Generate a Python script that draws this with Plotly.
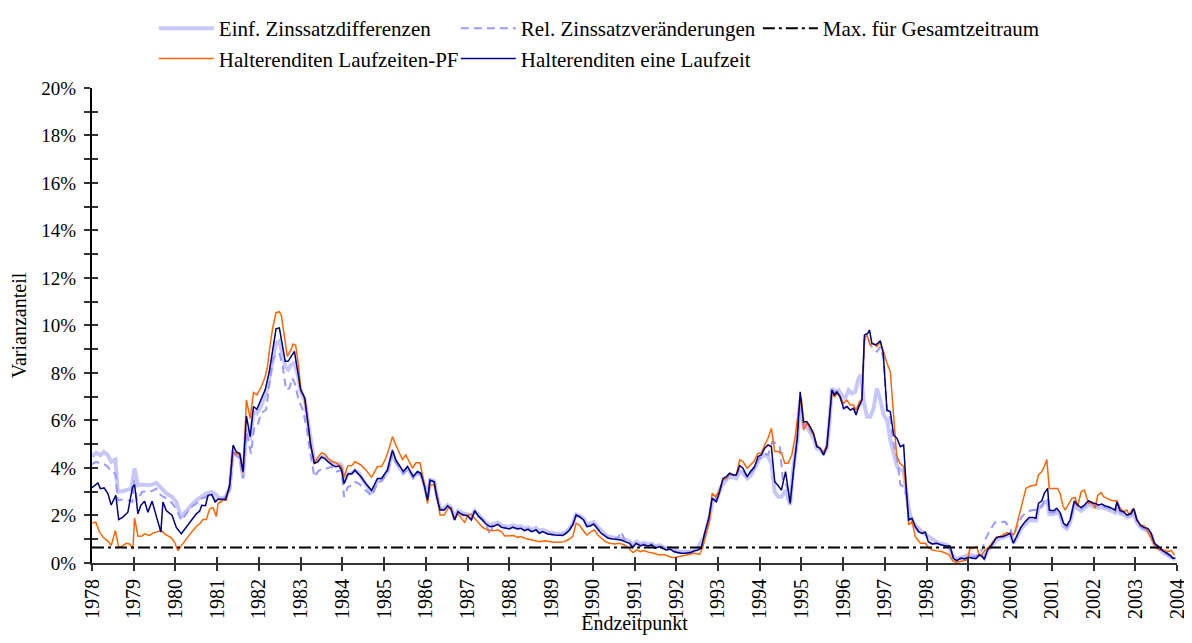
import plotly.graph_objects as go

# ---------------- data (end date as decimal year, variance share in %) ----------------
einf = [
 (1978.00,4.47),(1978.10,4.64),(1978.20,4.54),(1978.28,4.68),(1978.38,4.54),(1978.46,4.26),(1978.56,4.36),
 (1978.62,2.99),(1978.74,3.03),(1978.86,3.09),(1978.94,3.13),(1979.02,3.98),(1979.10,3.27),(1979.20,3.30),
 (1979.34,3.27),(1979.44,3.30),(1979.54,3.37),(1979.65,3.17),(1979.79,2.92),(1979.92,2.78),(1980.02,2.57),
 (1980.14,1.93),(1980.26,2.21),(1980.38,2.43),(1980.50,2.64),(1980.62,2.78),(1980.74,2.92),(1980.86,2.99),
 (1980.95,2.92),(1981.06,2.71),(1981.20,2.78),(1981.30,3.13),(1981.38,4.75),(1981.54,4.54),(1981.62,3.62),
 (1981.70,5.67),(1981.79,5.18),(1981.87,6.38),(1981.95,6.30),(1982.05,6.59),(1982.17,7.15),(1982.25,7.79),
 (1982.33,8.63),(1982.41,9.27),(1982.49,9.34),(1982.57,8.77),(1982.63,8.28),(1982.70,8.14),(1982.77,8.35),
 (1982.85,8.42),(1982.93,7.93),(1983.00,7.22),(1983.10,6.87),(1983.18,5.88),(1983.26,4.89),(1983.33,4.26),
 (1983.41,4.33),(1983.50,4.47),(1983.58,4.44),(1983.66,4.36),(1983.76,4.22),(1983.84,4.12),(1983.92,4.19),
 (1983.98,4.12),(1984.04,3.41),(1984.13,3.77),(1984.23,3.77),(1984.30,3.91),(1984.40,3.77),(1984.50,3.48),
 (1984.60,3.20),(1984.70,2.95),(1984.84,3.45),(1984.94,3.50),(1985.08,3.85),(1985.20,4.65),(1985.28,4.25),
 (1985.36,4.05),(1985.46,3.80),(1985.56,4.00),(1985.64,3.80),(1985.70,3.60),(1985.80,3.80),(1985.88,3.75),
 (1985.96,3.30),(1986.04,2.75),(1986.10,3.50),(1986.20,3.45),(1986.26,2.85),(1986.34,2.30),(1986.44,2.30),
 (1986.52,2.45),(1986.60,2.35),(1986.69,1.90),(1986.77,2.20),(1986.88,2.10),(1987.00,2.05),(1987.09,1.90),
 (1987.17,2.20),(1987.27,2.00),(1987.36,1.85),(1987.44,1.70),(1987.54,1.60),(1987.64,1.65),(1987.73,1.70),
 (1987.81,1.58),(1987.92,1.55),(1988.00,1.52),(1988.08,1.58),(1988.20,1.52),(1988.28,1.55),(1988.36,1.45),
 (1988.45,1.50),(1988.53,1.40),(1988.64,1.48),(1988.72,1.35),(1988.80,1.40),(1988.92,1.30),(1989.08,1.25),
 (1989.20,1.24),(1989.28,1.24),(1989.36,1.32),(1989.44,1.45),(1989.52,1.65),(1989.60,2.05),(1989.68,2.00),
 (1989.78,1.88),(1989.86,1.62),(1989.94,1.65),(1990.02,1.72),(1990.10,1.55),(1990.20,1.35),(1990.29,1.22),
 (1990.37,1.12),(1990.48,1.08),(1990.60,1.06),(1990.68,1.04),(1990.77,0.98),(1990.88,0.92),(1990.96,0.75),
 (1991.04,0.90),(1991.14,0.80),(1991.22,0.85),(1991.32,0.80),(1991.41,0.82),(1991.49,0.70),(1991.60,0.75),
 (1991.68,0.68),(1991.75,0.62),(1991.86,0.64),(1991.94,0.55),(1992.02,0.50),(1992.11,0.47),(1992.23,0.46),
 (1992.35,0.47),(1992.48,0.55),(1992.68,1.11),(1992.80,1.95),(1992.88,2.65),(1992.96,2.65),(1993.08,3.21),
 (1993.16,3.42),(1993.28,3.64),(1993.44,3.56),(1993.52,3.85),(1993.60,3.78),(1993.70,3.56),(1993.80,3.71),
 (1993.92,4.13),(1994.00,4.41),(1994.12,4.55),(1994.20,4.48),(1994.28,4.20),(1994.36,3.00),(1994.44,2.79),
 (1994.52,2.79),(1994.62,3.07),(1994.73,2.44),(1994.80,3.92),(1994.90,5.18),(1994.97,6.86),(1995.05,5.81),
 (1995.13,5.74),(1995.21,5.53),(1995.29,5.25),(1995.37,4.83),(1995.45,4.76),(1995.53,4.62),(1995.61,4.83),
 (1995.67,5.88),(1995.73,7.35),(1995.81,7.21),(1995.89,7.28),(1995.97,7.07),(1996.05,6.93),(1996.13,7.28),
 (1996.21,7.14),(1996.29,7.21),(1996.37,7.78),(1996.43,7.92),(1996.49,6.86),(1996.57,6.16),(1996.65,6.16),
 (1996.73,6.51),(1996.81,7.35),(1996.89,6.86),(1996.97,6.23),(1997.05,6.02),(1997.13,5.18),(1997.21,4.62),
 (1997.29,4.06),(1997.37,3.92),(1997.45,3.85),(1997.53,2.79),(1997.61,1.95),(1997.69,1.67),(1997.81,1.46),
 (1997.93,1.25),(1998.05,1.11),(1998.17,0.97),(1998.29,0.83),(1998.40,0.80),(1998.50,0.75),(1998.60,0.40),
 (1998.70,0.15),(1998.80,0.22),(1998.90,0.25),(1999.00,0.35),(1999.10,0.30),(1999.20,0.28),(1999.30,0.35),
 (1999.38,0.20),(1999.46,0.55),(1999.56,0.70),(1999.66,0.95),(1999.76,1.05),(1999.84,1.08),(1999.92,1.12),
 (2000.00,1.20),(2000.08,0.85),(2000.16,1.05),(2000.26,1.45),(2000.36,1.65),(2000.46,1.80),(2000.54,1.80),
 (2000.62,1.78),(2000.68,2.30),(2000.76,2.40),(2000.82,2.55),(2000.90,2.60),(2000.94,2.05),(2001.04,2.05),
 (2001.12,2.15),(2001.20,2.00),(2001.28,1.55),(2001.36,1.45),(2001.44,1.70),(2001.54,2.45),(2001.62,2.30),
 (2001.70,2.20),(2001.78,2.30),(2001.88,2.45),(2001.96,2.40),(2002.04,2.38),(2002.12,2.32),(2002.20,2.35),
 (2002.28,2.28),(2002.36,2.25),(2002.44,2.18),(2002.52,2.12),(2002.56,2.40),(2002.64,2.08),(2002.72,2.04),
 (2002.80,1.92),(2002.90,1.98),(2002.96,2.15),(2003.04,1.70),(2003.12,1.52),(2003.20,1.42),(2003.30,1.38),
 (2003.38,1.18),(2003.46,0.78),(2003.56,0.62),(2003.66,0.45),(2003.76,0.35),(2003.84,0.27),(2003.90,0.18),
 (2003.96,0.15),
]

rel = [
 (1978.00,4.16),(1978.10,4.26),(1978.20,4.19),(1978.30,4.15),(1978.38,4.05),(1978.46,3.84),(1978.56,3.77),
 (1978.62,2.64),(1978.74,2.67),(1978.86,2.64),(1978.97,2.57),(1979.00,3.48),(1979.08,2.64),(1979.20,2.99),
 (1979.32,3.03),(1979.44,3.03),(1979.54,3.13),(1979.65,2.85),(1979.79,2.71),(1979.92,2.52),(1980.02,2.28),
 (1980.14,1.79),(1980.26,2.07),(1980.38,2.36),(1980.50,2.50),(1980.62,2.71),(1980.74,2.78),(1980.86,2.92),
 (1980.95,2.64),(1981.06,2.50),(1981.20,2.78),(1981.30,3.06),(1981.38,4.61),(1981.54,4.40),(1981.62,3.55),
 (1981.70,5.53),(1981.81,4.61),(1981.89,5.74),(1981.97,5.81),(1982.05,6.30),(1982.17,6.45),(1982.25,7.43),
 (1982.33,8.56),(1982.41,8.77),(1982.49,8.84),(1982.57,8.28),(1982.65,7.29),(1982.73,7.36),(1982.80,7.79),
 (1982.86,7.57),(1982.95,6.87),(1983.05,6.45),(1983.14,5.74),(1983.22,4.75),(1983.33,3.62),(1983.41,3.84),
 (1983.51,3.98),(1983.61,3.98),(1983.74,4.05),(1983.84,3.84),(1983.98,3.91),(1984.04,2.78),(1984.13,3.20),
 (1984.23,3.27),(1984.30,3.41),(1984.40,3.34),(1984.50,3.13),(1984.60,3.00),(1984.70,2.82),(1984.84,3.35),
 (1984.94,3.45),(1985.08,3.80),(1985.20,4.60),(1985.28,4.25),(1985.36,4.00),(1985.46,3.75),(1985.56,3.95),
 (1985.64,3.80),(1985.70,3.55),(1985.80,3.80),(1985.88,3.70),(1985.96,3.30),(1986.04,2.75),(1986.10,3.55),
 (1986.20,3.40),(1986.26,2.90),(1986.34,2.25),(1986.44,2.25),(1986.52,2.40),(1986.60,2.30),(1986.69,1.85),
 (1986.77,2.15),(1986.88,2.05),(1987.00,2.00),(1987.09,1.85),(1987.17,2.15),(1987.27,1.95),(1987.36,1.80),
 (1987.44,1.65),(1987.54,1.20),(1987.60,1.55),(1987.73,1.62),(1987.81,1.52),(1987.92,1.48),(1988.00,1.45),
 (1988.08,1.52),(1988.20,1.45),(1988.28,1.48),(1988.36,1.38),(1988.45,1.44),(1988.53,1.34),(1988.64,1.40),
 (1988.72,1.27),(1988.80,1.33),(1988.92,1.24),(1989.08,1.20),(1989.20,1.18),(1989.28,1.18),(1989.36,1.27),
 (1989.44,1.40),(1989.52,1.62),(1989.60,2.00),(1989.68,1.95),(1989.78,1.82),(1989.86,1.55),(1989.94,1.60),
 (1990.02,1.68),(1990.10,1.50),(1990.20,1.28),(1990.29,1.16),(1990.37,1.06),(1990.48,1.04),(1990.60,1.03),
 (1990.68,1.32),(1990.77,0.95),(1990.88,0.86),(1990.96,0.68),(1991.04,0.86),(1991.14,0.75),(1991.22,0.80),
 (1991.32,0.76),(1991.41,0.80),(1991.49,0.66),(1991.60,0.72),(1991.68,0.65),(1991.75,0.58),(1991.86,0.60),
 (1991.94,0.50),(1992.02,0.46),(1992.11,0.43),(1992.23,0.43),(1992.35,0.46),(1992.48,0.55),(1992.60,0.65),
 (1992.68,1.20),(1992.78,1.85),(1992.86,2.70),(1992.96,2.70),(1993.04,3.10),(1993.12,3.45),(1993.20,3.55),
 (1993.28,3.70),(1993.36,3.65),(1993.44,3.70),(1993.52,4.00),(1993.60,3.90),(1993.70,3.60),(1993.78,3.80),
 (1993.88,4.00),(1993.96,4.35),(1994.04,4.45),(1994.12,4.60),(1994.20,4.55),(1994.30,5.10),(1994.40,5.05),
 (1994.48,4.90),(1994.56,3.40),(1994.64,3.30),(1994.73,2.60),(1994.82,4.00),(1994.90,5.20),(1994.97,6.95),
 (1995.05,5.85),(1995.13,5.85),(1995.21,5.65),(1995.29,5.40),(1995.37,4.85),(1995.45,4.80),(1995.53,4.55),
 (1995.61,4.85),(1995.67,5.90),(1995.73,7.40),(1995.79,7.10),(1995.85,7.25),(1995.93,6.95),(1996.01,6.50),
 (1996.09,6.60),(1996.17,6.45),(1996.25,6.50),(1996.31,6.25),(1996.37,6.55),(1996.45,6.80),(1996.51,9.40),
 (1996.59,9.50),(1996.65,9.20),(1996.73,9.00),(1996.81,8.90),(1996.89,9.10),(1996.97,8.60),(1997.05,6.30),
 (1997.13,6.10),(1997.21,5.00),(1997.29,4.40),(1997.37,3.30),(1997.45,3.20),(1997.52,2.80),(1997.57,1.85),
 (1997.65,1.85),(1997.73,1.50),(1997.81,1.30),(1997.89,1.22),(1997.97,1.30),(1998.04,0.88),(1998.14,0.80),
 (1998.24,0.82),(1998.36,0.76),(1998.46,0.72),(1998.56,0.70),(1998.64,0.25),(1998.72,0.15),(1998.82,0.22),
 (1998.92,0.20),(1999.00,0.30),(1999.10,0.25),(1999.18,0.25),(1999.26,0.40),(1999.34,0.60),(1999.40,0.97),
 (1999.52,1.39),(1999.64,1.71),(1999.76,1.74),(1999.88,1.74),(2000.00,1.46),(2000.08,1.10),(2000.16,1.50),
 (2000.28,1.95),(2000.40,2.16),(2000.54,2.23),(2000.66,2.23),(2000.76,2.40),(2000.82,2.60),(2000.90,2.75),
 (2000.94,2.15),(2001.04,2.12),(2001.12,2.22),(2001.20,2.05),(2001.28,1.60),(2001.36,1.50),(2001.44,1.75),
 (2001.54,2.55),(2001.62,2.38),(2001.70,2.27),(2001.78,2.38),(2001.88,2.55),(2001.96,2.48),(2002.04,2.45),
 (2002.12,2.38),(2002.20,2.42),(2002.28,2.34),(2002.36,2.31),(2002.44,2.24),(2002.52,2.17),(2002.56,2.50),
 (2002.64,2.14),(2002.72,2.10),(2002.80,1.96),(2002.90,2.03),(2002.96,2.22),(2003.04,1.75),(2003.12,1.55),
 (2003.20,1.45),(2003.30,1.40),(2003.38,1.20),(2003.46,0.80),(2003.56,0.64),(2003.66,0.47),(2003.76,0.37),
 (2003.84,0.28),(2003.90,0.18),(2003.96,0.17),
]

laufzeiten_pf = [
 (1978.00,1.68),(1978.09,1.72),(1978.18,1.30),(1978.28,1.06),(1978.38,0.92),(1978.46,0.73),(1978.56,1.37),
 (1978.64,0.66),(1978.74,0.73),(1978.82,0.83),(1978.90,0.80),(1978.98,0.59),(1979.02,1.90),(1979.10,1.13),
 (1979.20,1.14),(1979.26,1.23),(1979.38,1.16),(1979.46,1.26),(1979.54,1.30),(1979.66,1.37),(1979.74,1.23),
 (1979.90,1.06),(1979.98,0.87),(1980.06,0.52),(1980.14,0.73),(1980.22,0.92),(1980.30,1.13),(1980.40,1.33),
 (1980.50,1.54),(1980.58,1.65),(1980.66,1.83),(1980.74,1.83),(1980.82,2.28),(1980.90,2.33),(1980.98,1.96),
 (1981.02,2.50),(1981.12,2.64),(1981.22,2.64),(1981.30,3.34),(1981.38,4.68),(1981.46,4.58),(1981.54,4.57),
 (1981.62,3.79),(1981.70,6.87),(1981.79,6.09),(1981.87,7.18),(1981.95,7.08),(1982.05,7.40),(1982.14,7.79),
 (1982.20,8.21),(1982.27,9.20),(1982.33,9.90),(1982.41,10.54),(1982.49,10.58),(1982.54,10.40),(1982.62,9.34),
 (1982.68,8.70),(1982.77,8.98),(1982.82,9.22),(1982.88,9.17),(1982.95,8.28),(1983.00,7.36),(1983.08,7.00),
 (1983.16,6.09),(1983.24,5.03),(1983.33,4.19),(1983.42,4.47),(1983.50,4.64),(1983.58,4.58),(1983.66,4.40),
 (1983.76,4.26),(1983.84,4.23),(1983.92,4.12),(1983.98,4.05),(1984.04,3.62),(1984.13,4.09),(1984.23,4.10),
 (1984.30,4.26),(1984.44,4.13),(1984.56,3.92),(1984.70,3.61),(1984.84,4.06),(1984.94,4.06),(1985.04,4.41),
 (1985.12,4.83),(1985.20,5.32),(1985.28,4.97),(1985.36,4.69),(1985.44,4.36),(1985.52,4.55),(1985.60,4.27),
 (1985.68,3.99),(1985.76,4.22),(1985.86,4.22),(1985.96,3.35),(1986.04,2.51),(1986.10,3.28),(1986.20,3.28),
 (1986.28,2.72),(1986.34,2.02),(1986.44,2.02),(1986.53,2.30),(1986.60,2.30),(1986.68,1.81),(1986.76,2.09),
 (1986.85,1.88),(1986.93,1.71),(1987.01,2.02),(1987.09,2.06),(1987.17,1.88),(1987.27,1.67),(1987.36,1.50),
 (1987.48,1.39),(1987.60,1.36),(1987.72,1.39),(1987.81,1.32),(1987.89,1.14),(1987.99,1.14),(1988.10,1.16),
 (1988.20,1.08),(1988.28,1.11),(1988.37,1.04),(1988.48,1.00),(1988.60,0.97),(1988.72,0.90),(1988.84,0.94),
 (1988.96,0.90),(1989.08,0.87),(1989.20,0.87),(1989.32,0.90),(1989.44,1.01),(1989.52,1.11),(1989.60,1.67),
 (1989.68,1.60),(1989.76,1.39),(1989.86,1.18),(1989.96,1.32),(1990.04,1.39),(1990.12,1.18),(1990.20,1.04),
 (1990.30,0.90),(1990.40,0.83),(1990.52,0.80),(1990.64,0.83),(1990.76,0.76),(1990.86,0.62),(1990.96,0.44),
 (1991.06,0.55),(1991.14,0.48),(1991.22,0.52),(1991.34,0.45),(1991.47,0.41),(1991.59,0.34),(1991.71,0.36),
 (1991.83,0.27),(1991.95,0.22),(1992.07,0.27),(1992.19,0.29),(1992.31,0.34),(1992.43,0.41),(1992.56,0.36),
 (1992.64,0.69),(1992.72,1.25),(1992.80,1.81),(1992.86,2.93),(1992.94,2.79),(1993.04,3.07),(1993.12,3.52),
 (1993.20,3.56),(1993.28,3.78),(1993.36,3.71),(1993.44,3.71),(1993.52,4.34),(1993.60,4.27),(1993.70,3.99),
 (1993.78,4.13),(1993.86,4.27),(1993.96,4.62),(1994.04,4.62),(1994.12,4.97),(1994.20,5.25),(1994.28,5.67),
 (1994.36,4.69),(1994.44,4.69),(1994.52,4.65),(1994.60,4.20),(1994.68,4.20),(1994.77,4.55),(1994.85,5.32),
 (1994.93,6.44),(1995.00,6.93),(1995.05,5.60),(1995.13,5.88),(1995.21,5.67),(1995.29,5.39),(1995.37,4.97),
 (1995.45,4.83),(1995.53,4.65),(1995.61,4.97),(1995.67,6.02),(1995.73,7.21),(1995.79,7.00),(1995.87,7.14),
 (1995.95,6.93),(1996.01,6.72),(1996.09,6.86),(1996.17,6.65),(1996.25,6.65),(1996.31,6.44),(1996.39,6.79),
 (1996.45,6.89),(1996.51,9.46),(1996.57,9.60),(1996.65,9.18),(1996.73,9.25),(1996.81,9.11),(1996.89,9.32),
 (1996.97,8.90),(1997.05,8.41),(1997.13,8.06),(1997.20,6.58),(1997.28,4.55),(1997.36,4.20),(1997.45,4.06),
 (1997.52,2.93),(1997.57,1.60),(1997.65,1.74),(1997.73,1.11),(1997.85,0.83),(1997.97,0.84),(1998.04,0.66),
 (1998.14,0.55),(1998.24,0.51),(1998.36,0.48),(1998.46,0.41),(1998.54,0.34),(1998.62,0.10),(1998.70,0.03),
 (1998.80,0.06),(1998.90,0.10),(1998.98,0.13),(1999.04,0.62),(1999.12,0.62),(1999.20,0.69),(1999.26,0.34),
 (1999.32,0.34),(1999.40,0.55),(1999.50,0.69),(1999.60,0.90),(1999.68,1.11),(1999.76,1.11),(1999.84,1.18),
 (1999.92,1.28),(2000.02,1.22),(2000.10,1.22),(2000.18,1.74),(2000.28,2.44),(2000.38,3.14),(2000.48,3.24),
 (2000.56,3.28),(2000.62,3.28),(2000.68,3.71),(2000.76,3.85),(2000.82,4.06),(2000.88,4.36),(2000.94,3.14),
 (2001.04,3.14),(2001.14,3.14),(2001.20,2.93),(2001.26,2.44),(2001.32,2.23),(2001.40,2.51),(2001.48,2.72),
 (2001.56,2.76),(2001.62,2.37),(2001.70,3.00),(2001.78,3.07),(2001.88,2.51),(2001.96,2.58),(2002.04,2.30),
 (2002.10,2.86),(2002.18,2.96),(2002.24,2.79),(2002.32,2.72),(2002.40,2.65),(2002.48,2.62),(2002.56,2.62),
 (2002.64,2.30),(2002.72,2.16),(2002.80,2.23),(2002.86,2.02),(2002.92,2.23),(2002.98,2.23),(2003.04,1.81),
 (2003.12,1.60),(2003.22,1.56),(2003.32,1.25),(2003.40,0.97),(2003.50,0.62),(2003.60,0.55),(2003.70,0.55),
 (2003.78,0.48),(2003.86,0.52),(2003.94,0.34),
]

eine_laufzeit = [
 (1978.00,3.17),(1978.14,3.37),(1978.20,3.13),(1978.29,3.16),(1978.38,2.92),(1978.46,2.44),(1978.57,2.85),
 (1978.64,1.83),(1978.74,1.93),(1978.86,2.14),(1978.97,3.20),(1979.02,3.30),(1979.10,2.07),(1979.17,2.43),
 (1979.26,2.60),(1979.34,2.14),(1979.44,2.60),(1979.52,2.14),(1979.65,1.30),(1979.70,2.57),(1979.78,2.21),
 (1979.92,2.00),(1980.02,1.50),(1980.14,1.23),(1980.26,1.50),(1980.38,1.80),(1980.50,2.07),(1980.58,2.19),
 (1980.63,2.43),(1980.72,2.41),(1980.78,2.85),(1980.87,2.88),(1980.95,2.57),(1981.02,2.69),(1981.10,2.68),
 (1981.20,2.67),(1981.30,3.27),(1981.38,4.96),(1981.46,4.68),(1981.54,4.61),(1981.62,3.84),(1981.70,6.19),
 (1981.79,5.32),(1981.87,6.59),(1981.95,6.47),(1982.05,6.87),(1982.15,7.29),(1982.25,8.07),(1982.33,8.98),
 (1982.41,9.86),(1982.49,9.90),(1982.57,9.05),(1982.63,8.49),(1982.70,8.49),(1982.77,8.70),(1982.85,8.91),
 (1982.93,8.07),(1983.00,7.29),(1983.10,6.94),(1983.16,6.02),(1983.24,4.96),(1983.33,4.19),(1983.41,4.26),
 (1983.50,4.47),(1983.58,4.40),(1983.66,4.26),(1983.76,4.12),(1983.84,4.05),(1983.92,4.08),(1983.98,3.91),
 (1984.04,3.34),(1984.13,3.74),(1984.23,3.77),(1984.30,3.91),(1984.44,3.64),(1984.56,3.35),(1984.70,3.05),
 (1984.84,3.56),(1984.94,3.56),(1985.08,3.92),(1985.20,4.76),(1985.28,4.34),(1985.36,4.13),(1985.46,3.85),
 (1985.56,4.06),(1985.64,3.85),(1985.70,3.64),(1985.80,3.85),(1985.88,3.78),(1985.96,3.28),(1986.04,2.65),
 (1986.10,3.49),(1986.20,3.42),(1986.26,2.79),(1986.34,2.23),(1986.44,2.23),(1986.52,2.40),(1986.60,2.30),
 (1986.69,1.81),(1986.77,2.16),(1986.88,2.02),(1987.00,1.99),(1987.09,1.81),(1987.17,2.20),(1987.27,1.95),
 (1987.36,1.81),(1987.44,1.64),(1987.54,1.53),(1987.64,1.56),(1987.73,1.63),(1987.81,1.50),(1987.92,1.46),
 (1988.00,1.43),(1988.08,1.50),(1988.20,1.43),(1988.28,1.46),(1988.36,1.36),(1988.45,1.42),(1988.53,1.32),
 (1988.64,1.39),(1988.72,1.25),(1988.80,1.32),(1988.92,1.22),(1989.08,1.18),(1989.20,1.16),(1989.28,1.16),
 (1989.36,1.25),(1989.44,1.39),(1989.52,1.60),(1989.60,2.02),(1989.68,1.95),(1989.78,1.81),(1989.86,1.53),
 (1989.94,1.56),(1990.02,1.64),(1990.10,1.46),(1990.20,1.25),(1990.29,1.14),(1990.37,1.04),(1990.48,1.01),
 (1990.60,1.00),(1990.68,0.97),(1990.77,0.90),(1990.88,0.83),(1990.96,0.65),(1991.04,0.83),(1991.14,0.72),
 (1991.22,0.77),(1991.32,0.72),(1991.41,0.76),(1991.49,0.62),(1991.60,0.69),(1991.68,0.62),(1991.75,0.55),
 (1991.86,0.58),(1991.94,0.48),(1992.02,0.44),(1992.11,0.41),(1992.23,0.41),(1992.35,0.44),(1992.43,0.51),
 (1992.52,0.55),(1992.60,0.62),(1992.68,1.25),(1992.78,1.88),(1992.86,2.72),(1992.96,2.58),(1993.04,3.00),
 (1993.12,3.56),(1993.20,3.64),(1993.28,3.78),(1993.36,3.71),(1993.44,3.71),(1993.52,4.10),(1993.60,3.99),
 (1993.70,3.64),(1993.78,3.85),(1993.88,4.06),(1993.96,4.48),(1994.04,4.55),(1994.12,4.83),(1994.20,4.97),
 (1994.28,4.90),(1994.36,3.42),(1994.44,3.26),(1994.52,3.07),(1994.62,3.85),(1994.73,2.51),(1994.82,4.06),
 (1994.90,5.25),(1994.97,7.21),(1995.05,5.95),(1995.13,5.95),(1995.21,5.74),(1995.29,5.46),(1995.37,4.90),
 (1995.45,4.83),(1995.53,4.55),(1995.61,4.90),(1995.67,5.95),(1995.73,7.28),(1995.79,7.07),(1995.85,7.21),
 (1995.93,7.00),(1996.01,6.51),(1996.09,6.58),(1996.17,6.44),(1996.25,6.51),(1996.31,6.23),(1996.37,6.58),
 (1996.45,6.86),(1996.51,9.60),(1996.59,9.67),(1996.63,9.81),(1996.69,9.25),(1996.77,9.18),(1996.83,9.25),
 (1996.89,9.36),(1996.96,8.83),(1997.05,6.44),(1997.13,6.37),(1997.21,5.39),(1997.29,5.25),(1997.37,4.90),
 (1997.45,4.97),(1997.52,2.93),(1997.57,1.81),(1997.65,1.88),(1997.73,1.53),(1997.81,1.32),(1997.89,1.25),
 (1997.97,1.30),(1998.04,0.90),(1998.14,0.80),(1998.24,0.83),(1998.36,0.76),(1998.46,0.72),(1998.56,0.72),
 (1998.64,0.20),(1998.72,0.10),(1998.82,0.20),(1998.92,0.17),(1999.00,0.24),(1999.10,0.20),(1999.18,0.18),
 (1999.26,0.34),(1999.34,0.27),(1999.38,0.15),(1999.46,0.55),(1999.56,0.76),(1999.66,1.04),(1999.74,1.11),
 (1999.82,1.11),(1999.92,1.18),(2000.00,1.25),(2000.08,0.83),(2000.16,1.11),(2000.26,1.50),(2000.36,1.74),
 (2000.46,1.92),(2000.54,1.92),(2000.62,1.88),(2000.68,2.51),(2000.76,2.62),(2000.82,2.93),(2000.90,3.14),
 (2000.94,2.23),(2001.04,2.20),(2001.12,2.30),(2001.20,2.12),(2001.28,1.67),(2001.36,1.57),(2001.44,1.81),
 (2001.54,2.61),(2001.62,2.44),(2001.70,2.33),(2001.78,2.44),(2001.88,2.62),(2001.96,2.54),(2002.04,2.51),
 (2002.12,2.44),(2002.20,2.48),(2002.28,2.40),(2002.36,2.37),(2002.44,2.30),(2002.52,2.23),(2002.56,2.58),
 (2002.64,2.20),(2002.72,2.16),(2002.80,2.02),(2002.90,2.09),(2002.96,2.30),(2003.04,1.81),(2003.12,1.60),
 (2003.20,1.50),(2003.30,1.46),(2003.38,1.25),(2003.46,0.83),(2003.56,0.69),(2003.66,0.51),(2003.76,0.41),
 (2003.84,0.32),(2003.90,0.20),(2003.96,0.20),
]

max_gesamt = 0.65          # Max. für Gesamtzeitraum (%)
max_span = [1978.0, 2004.0]
years = list(range(1978, 2005))
y_major = list(range(0, 21, 2))
y_labels = [f"{v}%" for v in y_major]

FONT = "Liberation Serif, Times New Roman, serif"
AX = "#333333"

def xs(d): return [p[0] for p in d]
def ys(d): return [p[1] for p in d]

fig = go.Figure()
fig.add_trace(go.Scatter(x=xs(einf), y=ys(einf), mode="lines", name="Einf. Zinssatzdifferenzen",
                         line=dict(color="#c8c8f8", width=4)))
fig.add_trace(go.Scatter(x=xs(rel), y=ys(rel), mode="lines", name="Rel. Zinssatzveränderungen",
                         line=dict(color="#9999ff", width=2, dash="8px,5px")))
fig.add_trace(go.Scatter(x=max_span, y=[max_gesamt, max_gesamt], mode="lines", name="Max. für Gesamtzeitraum",
                         line=dict(color="black", width=2, dash="12px,4px,3px,4px"), xaxis="x2", yaxis="y2"))
fig.add_trace(go.Scatter(x=xs(laufzeiten_pf), y=ys(laufzeiten_pf), mode="lines", name="Halterenditen Laufzeiten-PF",
                         line=dict(color="#ff6600", width=1.5)))
fig.add_trace(go.Scatter(x=xs(eine_laufzeit), y=ys(eine_laufzeit), mode="lines", name="Halterenditen eine Laufzeit",
                         line=dict(color="#000080", width=1.5)))

# the page body adds an 8 px offset; figure is sized so that it fills the 1192x643 window
YDOM = [0, 0.8559]
xcommon = dict(range=[1978, 2004], tickmode="array", tickvals=years, showgrid=False, zeroline=False,
               tickcolor=AX, ticklen=6, tickwidth=1.5, automargin=False)
ycommon = dict(range=[0, 20], tickmode="array", tickvals=y_major, ticktext=y_labels, showgrid=False,
               zeroline=False, tickcolor=AX, ticklen=6, tickwidth=1.5, automargin=False, domain=YDOM)

fig.update_layout(
    width=1176, height=627,
    margin=dict(l=84, r=7, t=0, b=72),
    paper_bgcolor="white", plot_bgcolor="white",
    font=dict(family=FONT, size=20, color="black"),
    showlegend=True,
    legend=dict(orientation="h", xref="paper", yref="paper", x=0.057, y=1.0,
                xanchor="left", yanchor="top", entrywidth=232, entrywidthmode="pixels",
                font=dict(family=FONT, size=21), bgcolor="rgba(0,0,0,0)", itemwidth=55,
                tracegroupgap=0),
    xaxis=dict(**xcommon, ticks="outside", tickangle=-90, showline=True, linecolor=AX, linewidth=2,
               tickfont=dict(family=FONT, size=20), ticklabeloverflow="allow",
               title=dict(text="Endzeitpunkt", font=dict(family=FONT, size=20), standoff=12)),
    yaxis=dict(**ycommon, ticks="outside", showline=True, linecolor="black", linewidth=2,
               ticklabelstandoff=4,
               minor=dict(dtick=1, ticks="outside", ticklen=6, tickcolor=AX, tickwidth=1.5),
               tickfont=dict(family=FONT, size=19),
               title=dict(text="Varianzanteil", font=dict(family=FONT, size=20), standoff=10)),
    xaxis2=dict(**xcommon, overlaying="x", anchor="y2", side="bottom", ticks="inside",
                showticklabels=False, showline=False),
    yaxis2=dict(**ycommon, overlaying="y", anchor="x2", side="left", ticks="inside",
                showticklabels=False, showline=False,
                minor=dict(dtick=1, ticks="inside", ticklen=6, tickcolor=AX, tickwidth=1.5)),
)

fig.write_html("out.html")
